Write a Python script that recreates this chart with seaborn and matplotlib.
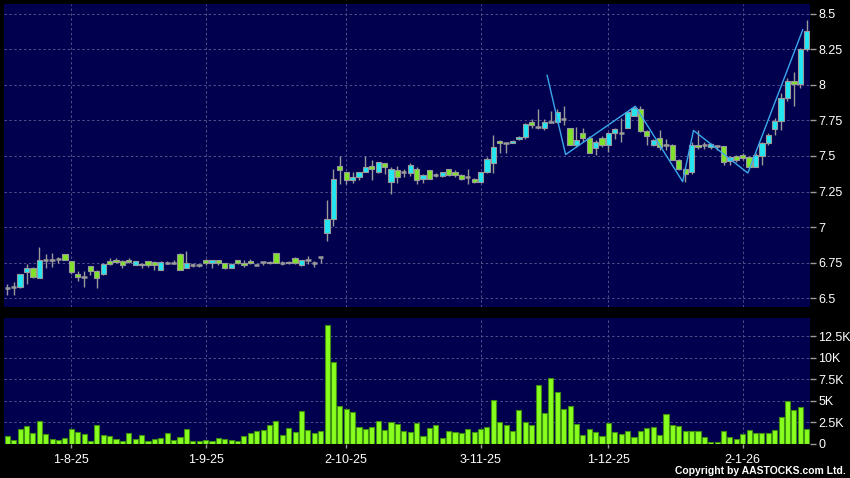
import matplotlib

matplotlib.use("Agg")
import matplotlib.pyplot as plt
import numpy as np
import pandas as pd
import seaborn as sns

# daily candles (HKD)
opens = [6.57, 6.58, 6.575, 6.68, 6.71, 6.64, 6.77, 6.77, 6.775, 6.81,
         6.76, 6.67, 6.65, 6.725, 6.69, 6.67, 6.76, 6.77, 6.76, 6.77,
         6.735, 6.73, 6.76, 6.755, 6.70, 6.745, 6.745, 6.81, 6.715, 6.73,
         6.73, 6.77, 6.745, 6.765, 6.745, 6.715, 6.77, 6.75, 6.76, 6.73,
         6.755, 6.755, 6.82, 6.745, 6.745, 6.785, 6.735, 6.77, 6.745, 6.79,
         6.955, 7.055, 7.43, 7.39, 7.33, 7.355, 7.39, 7.43, 7.39, 7.45,
         7.32, 7.40, 7.39, 7.38, 7.41, 7.335, 7.40, 7.365, 7.36, 7.41,
         7.39, 7.365, 7.35, 7.34, 7.32, 7.39, 7.45, 7.605, 7.59, 7.59,
         7.62, 7.635, 7.74, 7.705, 7.695, 7.74, 7.74, 7.76, 7.70, 7.58,
         7.66, 7.625, 7.555, 7.63, 7.58, 7.66, 7.66, 7.70, 7.785, 7.83,
         7.675, 7.58, 7.625, 7.58, 7.58, 7.47, 7.41, 7.39, 7.58, 7.58,
         7.56, 7.57, 7.57, 7.465, 7.50, 7.51, 7.495, 7.425, 7.50, 7.59,
         7.69, 7.745, 7.91, 8.03, 8.005, 8.25]
highs = [6.60, 6.61, 6.67, 6.74, 6.72, 6.86, 6.81, 6.82, 6.79, 6.81,
         6.76, 6.69, 6.69, 6.725, 6.70, 6.75, 6.78, 6.78, 6.77, 6.785,
         6.76, 6.75, 6.76, 6.76, 6.76, 6.76, 6.765, 6.82, 6.83, 6.75,
         6.74, 6.775, 6.77, 6.77, 6.75, 6.745, 6.77, 6.765, 6.775, 6.745,
         6.755, 6.76, 6.82, 6.76, 6.76, 6.79, 6.77, 6.795, 6.76, 6.79,
         7.19, 7.41, 7.50, 7.39, 7.39, 7.39, 7.50, 7.47, 7.46, 7.45,
         7.42, 7.43, 7.41, 7.45, 7.42, 7.37, 7.40, 7.38, 7.39, 7.41,
         7.40, 7.37, 7.41, 7.345, 7.39, 7.49, 7.65, 7.61, 7.59, 7.61,
         7.64, 7.73, 7.76, 7.83, 7.76, 7.82, 7.83, 7.85, 7.70, 7.705,
         7.70, 7.64, 7.61, 7.64, 7.67, 7.70, 7.765, 7.82, 7.85, 7.85,
         7.68, 7.62, 7.68, 7.62, 7.585, 7.48, 7.42, 7.60, 7.68, 7.60,
         7.59, 7.58, 7.57, 7.50, 7.51, 7.52, 7.50, 7.52, 7.60, 7.66,
         7.77, 7.94, 8.05, 8.09, 8.26, 8.46]
lows = [6.52, 6.52, 6.57, 6.60, 6.64, 6.64, 6.71, 6.72, 6.75, 6.77,
        6.67, 6.62, 6.58, 6.66, 6.57, 6.66, 6.73, 6.75, 6.71, 6.745,
        6.73, 6.71, 6.72, 6.70, 6.70, 6.74, 6.74, 6.70, 6.71, 6.72,
        6.72, 6.73, 6.715, 6.73, 6.705, 6.71, 6.74, 6.72, 6.74, 6.73,
        6.735, 6.74, 6.745, 6.735, 6.74, 6.74, 6.725, 6.74, 6.72, 6.75,
        6.90, 7.01, 7.30, 7.30, 7.31, 7.33, 7.39, 7.33, 7.38, 7.37,
        7.23, 7.31, 7.35, 7.36, 7.30, 7.31, 7.34, 7.35, 7.35, 7.36,
        7.35, 7.33, 7.30, 7.31, 7.31, 7.38, 7.38, 7.52, 7.52, 7.59,
        7.61, 7.62, 7.70, 7.69, 7.68, 7.73, 7.73, 7.72, 7.58, 7.565,
        7.60, 7.52, 7.51, 7.56, 7.53, 7.62, 7.60, 7.70, 7.78, 7.67,
        7.58, 7.57, 7.54, 7.54, 7.47, 7.40, 7.32, 7.37, 7.55, 7.55,
        7.55, 7.54, 7.44, 7.44, 7.46, 7.47, 7.42, 7.42, 7.44, 7.58,
        7.65, 7.68, 7.89, 7.85, 7.98, 8.24]
closes = [6.57, 6.58, 6.67, 6.71, 6.65, 6.77, 6.77, 6.77, 6.775, 6.77,
          6.68, 6.65, 6.65, 6.69, 6.64, 6.74, 6.74, 6.755, 6.73, 6.755,
          6.76, 6.74, 6.73, 6.73, 6.755, 6.745, 6.745, 6.70, 6.745, 6.73,
          6.73, 6.745, 6.765, 6.745, 6.71, 6.74, 6.745, 6.735, 6.745, 6.73,
          6.755, 6.745, 6.745, 6.745, 6.755, 6.745, 6.77, 6.77, 6.745, 6.79,
          7.055, 7.34, 7.40, 7.33, 7.355, 7.39, 7.425, 7.41, 7.455, 7.42,
          7.41, 7.355, 7.39, 7.435, 7.33, 7.365, 7.34, 7.365, 7.385, 7.365,
          7.365, 7.335, 7.35, 7.32, 7.39, 7.48, 7.565, 7.59, 7.59, 7.605,
          7.635, 7.725, 7.72, 7.705, 7.74, 7.74, 7.81, 7.76, 7.58, 7.61,
          7.625, 7.52, 7.60, 7.58, 7.66, 7.69, 7.66, 7.81, 7.835, 7.675,
          7.64, 7.61, 7.565, 7.58, 7.47, 7.41, 7.37, 7.58, 7.56, 7.58,
          7.585, 7.57, 7.46, 7.495, 7.475, 7.485, 7.425, 7.51, 7.59, 7.65,
          7.745, 7.91, 8.03, 8.005, 8.25, 8.38]
volumes_k = [0.90, 0.47, 1.76, 2.07, 1.33, 2.65, 1.17, 0.59, 0.51, 0.70,
             1.76, 1.44, 1.13, 0.39, 2.26, 1.09, 0.94, 0.62, 0.31, 1.29,
             0.59, 1.01, 0.39, 0.62, 0.70, 1.25, 0.51, 0.78, 1.79, 0.31,
             0.31, 0.51, 0.31, 0.74, 0.59, 0.47, 0.39, 0.94, 1.29, 1.48,
             1.60, 2.15, 2.65, 1.09, 1.83, 1.44, 3.82, 1.68, 1.33, 1.56,
             13.77, 9.55, 4.41, 4.06, 3.67, 2.03, 1.72, 2.03, 2.69, 1.68,
             2.57, 2.34, 1.52, 1.44, 2.42, 0.94, 1.91, 2.15, 0.74, 1.48,
             1.44, 1.25, 1.72, 1.44, 1.72, 1.95, 5.15, 2.50, 2.22, 1.52,
             3.98, 2.61, 2.22, 6.90, 3.59, 7.68, 6.05, 4.10, 4.37, 2.27,
             1.09, 1.76, 1.37, 0.98, 2.42, 1.44, 1.17, 1.48, 0.78, 1.56,
             1.87, 2.03, 1.09, 3.51, 2.26, 2.11, 1.56, 1.56, 1.48, 0.78,
             0.20, 0.20, 1.48, 0.78, 0.55, 1.17, 1.64, 1.29, 1.29, 1.33,
             1.68, 3.12, 4.95, 3.98, 4.25, 1.72]

# zigzag trend line (bar index, price)
zz_idx = [84.4, 87.3, 98.2, 105.6, 107.3, 115.8, 124.4]
zz_px = [8.07, 7.51, 7.85, 7.32, 7.68, 7.38, 8.39]

date_ticks = [10, 31, 53, 74, 94, 115]
date_labels = ["1-8-25", "1-9-25", "2-10-25", "3-11-25", "1-12-25", "2-1-26"]
price_ticks = [6.5, 6.75, 7.0, 7.25, 7.5, 7.75, 8.0, 8.25, 8.5]
price_labels = ["6.5", "6.75", "7", "7.25", "7.5", "7.75", "8", "8.25", "8.5"]
vol_ticks = [0, 2.5, 5, 7.5, 10, 12.5]
vol_labels = ["0", "2.5K", "5K", "7.5K", "10K", "12.5K"]

NAVY = "#00004e"
GRID = "#50508a"
CYAN = "#22e6f2"
GREEN = "#7fe32a"
WICK = "#9a9a9a"
VOL = "#88ff1e"
VOL_EDGE = "#3f8f12"
LINE = "#3aa8ec"

sns.set_style("dark", rc={"axes.facecolor": NAVY, "figure.facecolor": "black"})
plt.rcParams["font.family"] = ["Liberation Sans", "DejaVu Sans"]

df = pd.DataFrame({"o": opens, "h": highs, "l": lows, "c": closes, "v": volumes_k})
df["i"] = np.arange(len(df))
up = df.c > df.o + 1e-9
down = df.c < df.o - 1e-9
flat = ~(up | down)

W, H = 850, 478
fig = plt.figure(figsize=(W / 100, H / 100), dpi=100, facecolor="black")
ax_p = fig.add_axes([4 / W, 1 - 307 / H, 806 / W, 303 / H])
ax_v = fig.add_axes([4 / W, 1 - 444 / H, 806 / W, 126 / H])

# price panel
ax_p.vlines(df.i, df.l, df.h, color=WICK, lw=1, zorder=2)
ax_p.bar(df.i[up], (df.c - df.o)[up], bottom=df.o[up], width=0.82,
         color=CYAN, edgecolor=WICK, lw=0.8, zorder=3)
ax_p.bar(df.i[down], (df.o - df.c)[down], bottom=df.c[down], width=0.82,
         color=GREEN, edgecolor=WICK, lw=0.8, zorder=3)
ax_p.hlines(df.o[flat], df.i[flat] - 0.42, df.i[flat] + 0.42, color=WICK, lw=1.8, zorder=3)
sns.lineplot(x=zz_idx, y=zz_px, ax=ax_p, color=LINE, lw=1, sort=False, zorder=4)

ax_p.set_ylim(6.437, 8.57)
ax_p.set_yticks(price_ticks)
ax_p.set_yticklabels(price_labels)
ax_p.set_xticks(date_ticks)
ax_p.tick_params(axis="x", length=0, labelbottom=False)

# volume panel
sns.barplot(x=df.i, y=df.v, ax=ax_v, native_scale=True, width=0.8, color=VOL,
            saturation=1, edgecolor=VOL_EDGE, linewidth=0.8, errorbar=None, zorder=3)
ax_v.set_ylim(0, 14.64)
ax_v.set_yticks(vol_ticks)
ax_v.set_yticklabels(vol_labels)
ax_v.set_xticks(date_ticks)
ax_v.set_xticklabels(date_labels)
ax_v.tick_params(axis="x", length=3, width=1, color=WICK, colors="white",
                 labelsize=9, pad=4, direction="out", bottom=True)

for ax in (ax_p, ax_v):
    ax.set_xlim(-0.52, 125.52)
    ax.set_xlabel("")
    ax.set_ylabel("")
    ax.set_facecolor(NAVY)
    ax.yaxis.tick_right()
    ax.tick_params(axis="y", length=4, width=1, color=WICK, labelcolor="white",
                   labelsize=9, pad=2, direction="out", right=True, left=False)
    ax.grid(True, color=GRID, lw=0.7, ls=(0, (2.5, 2.5)))
    ax.set_axisbelow(True)
    for s in ax.spines.values():
        s.set_visible(False)

fig.text(846 / W, 1 - 471 / H, "Copyright by AASTOCKS.com Ltd.", ha="right", va="center",
         fontsize=7.5, fontweight="bold", color="white")

fig.savefig("out.png", dpi=100, facecolor="black")
plt.close(fig)
